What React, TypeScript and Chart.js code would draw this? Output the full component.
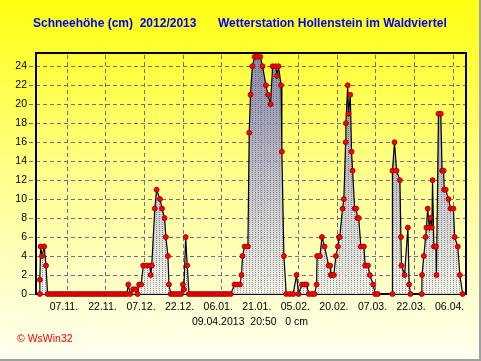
import React, { useEffect, useRef } from "react";
import { Chart, registerables } from "chart.js";

Chart.register(...registerables);

// ---- texts ----
const titleLeft = "Schneehöhe (cm)  2012/2013";
const titleRight = "Wetterstation Hollenstein im Waldviertel";
const footerText = "09.04.2013  20:50   0 cm";
const creditText = "© WsWin32";

// ---- x axis: days since 26.10.2012 ----
const xMin = 0;
const xMax = 167.2;
const tickDays = [12, 27, 42, 57, 72, 87, 102, 117, 132, 147, 162];
const tickLabels = ["07.11.", "22.11.", "07.12.", "22.12.", "06.01.", "21.01.", "05.02.", "20.02.", "07.03.", "22.03.", "06.04."];

// ---- y axis ----
const yMin = 0;
const yMax = 25.4;
const yStep = 2;

// ---- series: measurement time (days since 26.10.2012) and snow depth (cm) ----
const days = [
  1.5, 1.5, 1.8, 2.3, 3.2, 3.9, 4.5,
  5.5, 6.5, 7.5, 8.5, 9.5, 10.5, 11.5, 12.5, 13.5, 14.5, 15.5, 16.5, 17.5, 18.5, 19.5,
  20.5, 21.5, 22.5, 23.5, 24.5, 25.5, 26.5, 27.5, 28.5, 29.5, 30.5, 31.5, 32.5, 33.5, 34.5, 35.3,
  35.9, 36.6, 37.8, 38.9, 39.5, 40.1, 40.9, 41.7, 43.0, 44.3, 44.6, 45.0, 46.2, 46.9, 48.2, 49.0,
  50.0, 50.5, 51.3, 51.7, 52.4, 53.4, 54.4, 55.4, 56.4, 57.1, 57.5, 58.2, 58.8, 59.5,
  60.5, 61.5, 62.5, 63.5, 64.5, 65.5, 66.5, 67.5, 68.5, 69.5, 70.5, 71.5, 72.5, 73.5, 74.5, 75.7,
  77.2, 78.1, 79.3, 79.9, 80.3, 81.1, 82.4, 82.9, 83.4, 84.1, 85.0, 86.0, 87.2, 88.1, 89.4, 90.2,
  91.2, 92.0, 93.2, 93.7, 94.3, 95.3, 95.6, 96.4, 97.3, 98.7, 100.0, 101.3, 102.1, 103.4, 104.4,
  105.2, 106.1, 107.3, 108.3, 109.1,
  109.3, 110.4, 111.2, 112.2, 113.8, 114.4, 114.6, 115.1, 115.8, 116.6, 117.4, 117.8, 118.1, 119.2,
  119.7, 120.4, 120.5, 121.2, 121.5, 122.2, 122.7, 123.1, 123.9, 124.5, 125.0, 125.5, 126.3, 127.5,
  128.0, 129.1, 129.8, 131.1, 131.9, 132.9,
  138.6, 138.6, 139.4, 140.2, 141.5, 141.9, 142.1, 143.3, 144.6, 145.1, 145.6,
  150.0, 150.1, 150.8, 151.5, 151.8, 152.3, 152.9, 153.4, 153.9, 154.2, 154.7, 155.5, 155.7,
  156.5, 157.4, 157.9, 158.5, 158.7, 159.3, 160.4, 161.2, 162.3, 162.8, 164.0, 164.8, 165.9,
];
const snowCm = [
  0, 1.5, 5, 4, 5, 3, 0,
  0, 0, 0, 0, 0, 0, 0, 0, 0, 0, 0, 0, 0, 0, 0,
  0, 0, 0, 0, 0, 0, 0, 0, 0, 0, 0, 0, 0, 0, 0, 0,
  1, 0, 0.5, 0.5, 0, 1, 1, 3, 3, 3, 2, 3, 9, 11, 10, 9,
  8, 6, 4, 1, 0, 0, 0, 0, 0, 1, 0.5, 6, 3, 0,
  0, 0, 0, 0, 0, 0, 0, 0, 0, 0, 0, 0, 0, 0, 0, 0,
  1, 1, 1, 2, 4, 5, 5, 17, 21, 24, 25, 25, 25, 24, 22, 21,
  20, 24, 24, 23, 24, 22, 15, 4, 0, 0, 0, 2, 0, 1, 1,
  1, 0, 0, 0, 1,
  4, 4, 6, 5, 3, 3, 2, 2, 2, 4, 5, 6, 6, 9,
  10, 16, 18, 22, 19, 21, 15, 13, 9, 9, 8, 8, 5, 5,
  3, 3, 2, 1, 0, 0,
  0, 13, 16, 13, 12, 6, 3, 2, 7, 1, 0,
  0, 2, 4, 6, 7, 9, 7, 8, 7, 12, 5, 5, 2,
  19, 19, 13, 13, 11, 11, 10, 9, 9, 6, 5, 2, 0,
];

const FONT = "'Liberation Sans', Arial, sans-serif";

function makeFillPattern(ctx: CanvasRenderingContext2D, h: number, top: number, bottom: number) {
  const c = document.createElement("canvas");
  c.width = 3;
  c.height = h;
  const g = c.getContext("2d")!;
  const grad = g.createLinearGradient(0, top, 0, bottom);
  grad.addColorStop(0, "rgba(120,120,190,0.88)");
  grad.addColorStop(0.4, "rgba(168,168,208,0.85)");
  grad.addColorStop(0.8, "rgba(216,216,224,0.85)");
  grad.addColorStop(1, "rgba(242,242,238,0.85)");
  g.fillStyle = grad;
  g.fillRect(0, 0, 3, h);
  g.fillStyle = "rgba(60,60,60,0.5)";
  for (let y = 0; y < h; y += 2) g.fillRect(0, y, 1, 1);
  return ctx.createPattern(c, "repeat")!;
}

const GRID = "#6e6e8a";

const decorPlugin = {
  id: "decor",
  beforeDraw(chart: any) {
    const { ctx, width, height, chartArea } = chart;
    ctx.save();
    const gr = ctx.createLinearGradient(0, 0, 0, height);
    gr.addColorStop(0, "#ffff10");
    gr.addColorStop(0.5, "#ffff90");
    gr.addColorStop(1, "#fffff2");
    ctx.fillStyle = gr;
    ctx.fillRect(0, 0, width, height);
    // dashed grid (scales are already laid out at this point)
    const xs = chart.scales.x;
    const ys = chart.scales.y;
    const { left, right, top, bottom } = chartArea;
    ctx.strokeStyle = GRID;
    ctx.lineWidth = 1;
    ctx.setLineDash([4, 3]);
    ctx.beginPath();
    for (let v = yMin + yStep; v < yMax; v += yStep) {
      const y = Math.round(ys.getPixelForValue(v)) + 0.5;
      ctx.moveTo(left - 7, y);
      ctx.lineTo(right, y);
    }
    tickDays.forEach((d) => {
      const x = Math.round(xs.getPixelForValue(d)) + 0.5;
      ctx.moveTo(x, top + 2);
      ctx.lineTo(x, bottom);
    });
    ctx.stroke();
    ctx.setLineDash([]);
    ctx.beginPath();
    const y0 = Math.round(ys.getPixelForValue(0)) + 0.5;
    ctx.moveTo(left - 7, y0);
    ctx.lineTo(left, y0);
    ctx.stroke();
    ctx.restore();
  },
  beforeDatasetsDraw(chart: any) {
    const { ctx, chartArea } = chart;
    const { left, right, top, bottom } = chartArea;
    ctx.save();
    ctx.strokeStyle = "#000";
    ctx.lineWidth = 2;
    ctx.strokeRect(left, top, right - left, bottom - top);
    ctx.restore();
  },
  afterDraw(chart: any) {
    const { ctx, width, height } = chart;
    ctx.save();
    // outer frame
    ctx.fillStyle = "#a0a0a0";
    ctx.fillRect(width - 2, 0, 2, height);
    ctx.fillRect(0, height - 2, width, 2);
    // title
    ctx.fillStyle = "#0000f0";
    ctx.font = `bold 12px ${FONT}`;
    ctx.textBaseline = "middle";
    ctx.textAlign = "left";
    ctx.fillText(titleLeft, 33, 24);
    ctx.fillText(titleRight, 218, 24);
    // footer
    ctx.fillStyle = "#000";
    ctx.font = `10.5px ${FONT}`;
    ctx.textAlign = "center";
    ctx.fillText(footerText, 250, 322);
    // credit
    ctx.fillStyle = "#ff0000";
    ctx.textAlign = "left";
    ctx.fillText(creditText, 17, 339);
    ctx.restore();
  },
};

export default function App() {
  const ref = useRef<HTMLCanvasElement>(null);
  useEffect(() => {
    document.body.style.margin = "0";
    const canvas = ref.current!;
    const ctx = canvas.getContext("2d")!;
    const points = days.map((d, i) => ({ x: d, y: snowCm[i] }));
    const fillPattern = makeFillPattern(ctx, 361, 53, 294);
    const chart = new Chart(ctx, {
      type: "line",
      data: {
        datasets: [
          {
            data: points,
            borderColor: "#000",
            borderWidth: 1.2,
            tension: 0,
            fill: "origin",
            backgroundColor: fillPattern,
            pointRadius: 2.5,
            pointBorderWidth: 0.8,
            pointBackgroundColor: "#ff0000",
            pointBorderColor: "#900000",
            pointHoverRadius: 0,
            clip: 4,
          },
        ],
      },
      options: {
        responsive: false,
        animation: false,
        devicePixelRatio: 1,
        layout: { padding: { left: 0, right: 15, top: 53, bottom: 0 } },
        plugins: {
          legend: { display: false },
          tooltip: { enabled: false },
          title: { display: false },
        },
        scales: {
          x: {
            type: "linear",
            min: xMin,
            max: xMax,
            afterFit: (s: any) => {
              s.height = 67;
            },
            afterBuildTicks: (s: any) => {
              s.ticks = tickDays.map((v) => ({ value: v }));
            },
            ticks: {
              autoSkip: false,
              maxRotation: 0,
              padding: 7,
              labelOffset: -3,
              color: "#000",
              font: { family: FONT, size: 10.5 },
              callback: (v: any) => {
                const i = tickDays.indexOf(Number(v));
                return i >= 0 ? tickLabels[i] : "";
              },
            },
            grid: { display: false, drawTicks: false },
            border: { display: false },
          },
          y: {
            min: yMin,
            max: yMax,
            afterFit: (s: any) => {
              s.width = 36;
            },
            ticks: {
              stepSize: yStep,
              includeBounds: false,
              padding: 9,
              color: "#000",
              font: { family: FONT, size: 10.5 },
            },
            grid: { display: false, drawTicks: false },
            border: { display: false },
          },
        },
      },
      plugins: [decorPlugin],
    });
    return () => chart.destroy();
  }, []);
  return <canvas ref={ref} width={481} height={361} style={{ display: "block", width: 481, height: 361 }} />;
}
